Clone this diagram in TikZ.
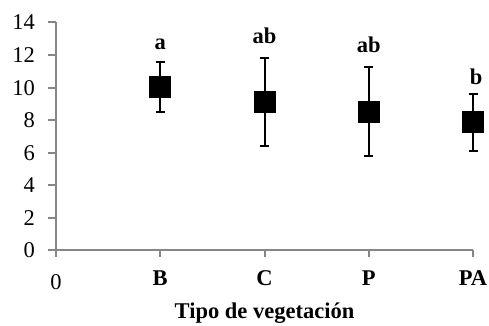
\documentclass[tikz,border=0pt]{standalone}
\usepackage{fontspec}
\setmainfont{Liberation Serif}
\usetikzlibrary{positioning,calc}
\definecolor{axisgray}{RGB}{134,134,134}
\tikzset{
myaxis/.style={draw=axisgray, line width=2pt},
mymark/.style={draw=none, fill=black, minimum size=22pt, inner sep=0pt},
mybar/.style={draw=black, line width=2pt},
mynum/.style={anchor=east, inner sep=0pt, font=\fontsize{22.5}{26}\selectfont},
mycat/.style={anchor=base, inner sep=0pt, font=\fontsize{22.5}{26}\selectfont\bfseries},
mysig/.style={anchor=base, inner sep=0pt, font=\fontsize{22.5}{26}\selectfont\bfseries}
}
\begin{document}
\begin{tikzpicture}[x=104.25pt, y=16.286pt]
  \useasboundingbox (-56pt,-75.5pt) rectangle (433pt,250.5pt);

  % axes
  \coordinate (origin) at (0,0);
  \coordinate (ymax) at (0,14);
  \coordinate (xmax) at (4,0);
  \draw[myaxis] (ymax) -- (origin) -- (xmax);
  \foreach \y in {0,2,...,14}{
    \draw[myaxis] (0,\y) -- ++(-8.5pt,0);
    \node[mynum] (num\y) at ($(0,\y)+(-21pt,0)$) {\y};
  }
  \foreach \x in {0,...,4}{
    \draw[myaxis] (\x,0) -- ++(0,-7pt);
  }

  % categories
  \node[anchor=base, inner sep=0pt, font=\fontsize{22.5}{26}\selectfont] (cat0) at ($(0,0)+(0,-38.5pt)$) {0};
  \node[mycat] (catB)  at ($(1,0)+(0,-34.8pt)$) {B};
  \node[mycat] (catC)  at ($(2,0)+(0,-34.8pt)$) {C};
  \node[mycat] (catP)  at ($(3,0)+(0,-34.8pt)$) {P};
  \node[mycat] (catPA) at ($(4,0)+(0,-34.8pt)$) {PA};
  \node[mycat] (title) at ($(2,0)+(0,-68.2pt)$) {Tipo de vegetación};

  % error bars
  \coordinate (Btop) at (1,11.57);  \coordinate (Bbot) at (1,8.49);
  \coordinate (Ctop) at (2,11.84);  \coordinate (Cbot) at (2,6.40);
  \coordinate (Ptop) at (3,11.27);  \coordinate (Pbot) at (3,5.78);
  \coordinate (PAtop) at (4,9.59); \coordinate (PAbot) at (4,6.09);

  \draw[mybar] (Bbot) -- (Btop);
  \draw[mybar] ([xshift=-4.5pt]Btop) -- ([xshift=4.5pt]Btop);
  \draw[mybar] ([xshift=-4.5pt]Bbot) -- ([xshift=4.5pt]Bbot);
  \draw[mybar] (Cbot) -- (Ctop);
  \draw[mybar] ([xshift=-4.5pt]Ctop) -- ([xshift=4.5pt]Ctop);
  \draw[mybar] ([xshift=-4.5pt]Cbot) -- ([xshift=4.5pt]Cbot);
  \draw[mybar] (Pbot) -- (Ptop);
  \draw[mybar] ([xshift=-4.5pt]Ptop) -- ([xshift=4.5pt]Ptop);
  \draw[mybar] ([xshift=-4.5pt]Pbot) -- ([xshift=4.5pt]Pbot);
  \draw[mybar] (PAbot) -- (PAtop);
  \draw[mybar] ([xshift=-4.5pt]PAtop) -- ([xshift=4.5pt]PAtop);
  \draw[mybar] ([xshift=-4.5pt]PAbot) -- ([xshift=4.5pt]PAbot);

  % means
  \node[mymark] (B)  at (1,10.04) {};
  \node[mymark] (C)  at (2,9.14) {};
  \node[mymark] (P)  at (3,8.52) {};
  \node[mymark] (PA) at (4,7.89) {};

  % letters
  \node[mysig] (sigB)  at (1,12.37) {a};
  \node[mysig] (sigC)  at (2,12.72) {ab};
  \node[mysig] (sigP)  at (3,12.17) {ab};
  \node[mysig] (sigPA) at ($(4,10.22)+(3pt,0)$) {b};

\end{tikzpicture}
\end{document}
